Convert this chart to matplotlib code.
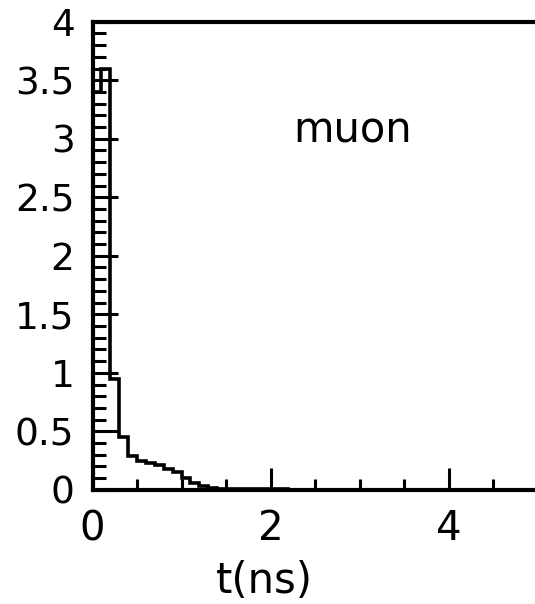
import numpy as np
import matplotlib
matplotlib.use('Agg')
import matplotlib.pyplot as plt
from matplotlib.ticker import MultipleLocator

# arrival time histogram, 0.1 ns bins
bin_width = 0.1
counts = [3.4, 3.6, 0.95, 0.45, 0.29, 0.25, 0.23, 0.21, 0.18, 0.15,
          0.10, 0.06, 0.03, 0.012, 0.01, 0.01, 0.01, 0.01, 0.01, 0.01,
          0.01, 0.01]
edges = np.arange(len(counts) + 1) * bin_width
particle = 'muon'

plt.rcParams['font.family'] = 'DejaVu Sans'

fig = plt.figure(figsize=(5.35, 6.04), dpi=100)
ax = fig.add_axes([0.173, 0.189, 0.832, 0.775])

ax.stairs(counts, edges, color='black', linewidth=2.6)

ax.set_xlim(0, 5)
ax.set_ylim(0, 4)
ax.xaxis.set_major_locator(MultipleLocator(2))
ax.xaxis.set_minor_locator(MultipleLocator(0.5))
ax.yaxis.set_major_locator(MultipleLocator(0.5))
ax.yaxis.set_minor_locator(MultipleLocator(0.1))
ax.yaxis.set_major_formatter(lambda v, p: f'{v:g}')

ax.tick_params(axis='both', which='both', direction='in', width=2.2, color='black')
ax.tick_params(axis='x', which='major', length=16, labelsize=29, pad=14)
ax.tick_params(axis='x', which='minor', length=8)
ax.tick_params(axis='y', which='major', length=18, labelsize=27, pad=13)
ax.tick_params(axis='y', which='minor', length=9)
ax.tick_params(top=False, right=False, which='both')

for s in ax.spines.values():
    s.set_linewidth(3)

ax.set_xlabel('t(ns)', fontsize=30, x=0.387, labelpad=8)
ax.text(0.584, 0.77, particle, transform=ax.transAxes, fontsize=30,
        ha='center', va='center')

fig.savefig('out.png', dpi=100)
